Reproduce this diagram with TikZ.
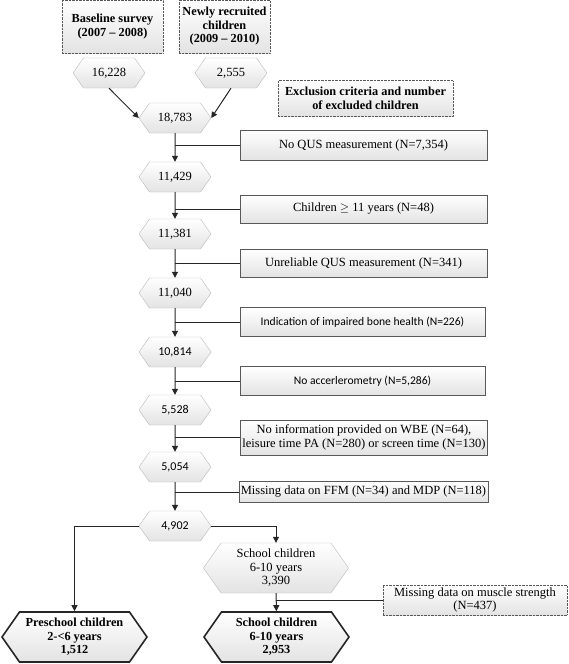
\documentclass[tikz,border=0pt]{standalone}
\usepackage{fontspec}
\setmainfont{Liberation Serif}
\newfontfamily\calfont{Carlito}
\usetikzlibrary{shapes.symbols,arrows.meta}

\tikzset{
  box/.style={draw=gray!70!black, top color=white, bottom color=gray!22,
    align=center, inner sep=2pt, font=\fontsize{12.5}{13.5}\selectfont},
  dotbox/.style={box, densely dotted, font=\fontsize{12.3}{13.5}\selectfont\bfseries},
  hexa/.style={draw=gray!55, signal, signal to=west and east, signal pointer angle=110,
    top color=white, bottom color=gray!22, align=center, inner sep=1pt,
    minimum width=72pt, minimum height=30pt, font=\fontsize{12.5}{13.5}\selectfont},
  calhexa/.style={hexa, font=\calfont\fontsize{12}{13.5}\selectfont},
  bighexa/.style={hexa, minimum width=145pt, minimum height=50pt},
  finalhexa/.style={bighexa, draw=gray!30!black, line width=1.6pt, font=\fontsize{12.3}{13.5}\selectfont\bfseries},
  link/.style={draw=gray!30!black, line width=1pt},
  arr/.style={link, -{Triangle[length=6pt,width=6pt]}}
}

\begin{document}
\begin{tikzpicture}[x=1pt,y=-1pt]
  \useasboundingbox (0,0) rectangle (568,664);

  \node[dotbox, minimum width=101pt, minimum height=53pt] (base) at (112.5,26.5) {Baseline survey\\(2007 -- 2008)};
  \node[dotbox, minimum width=91pt, minimum height=53pt] (recruit) at (224.5,26.5) {Newly recruited\\children\\(2009 -- 2010)};
  \node[hexa] (n16228) at (109,73) {16,228};
  \node[hexa] (n2555) at (231,73) {2,555};
  \node[hexa] (n18783) at (175,118) {18,783};
  \node[dotbox, minimum width=175pt, minimum height=36pt] (exclhead) at (365.5,98.5) {Exclusion criteria and number\\of excluded children};

  \node[hexa] (n11429) at (175,177) {11,429};
  \node[hexa] (n11381) at (175,234) {11,381};
  \node[hexa] (n11040) at (175,293) {11,040};
  \node[calhexa] (n10814) at (175,352) {10,814};
  \node[calhexa] (n5528) at (175,410) {5,528};
  \node[calhexa] (n5054) at (175,467) {5,054};
  \node[calhexa] (n4902) at (175,526) {4,902};

  \node[box, minimum width=247pt, minimum height=30pt] (excl1) at (363.5,145) {No QUS measurement (N=7,354)};
  \node[box, minimum width=247pt, minimum height=28pt] (excl2) at (363.5,209) {Children $\geq$ 11 years (N=48)};
  \node[box, minimum width=247pt, minimum height=28pt] (excl3) at (363.5,263) {Unreliable QUS measurement (N=341)};
  \node[box, minimum width=245pt, minimum height=29pt, font=\calfont\fontsize{11.6}{13.5}\selectfont] (excl4) at (362.5,322) {Indication of impaired bone health (N=226)};
  \node[box, minimum width=245pt, minimum height=29pt, font=\calfont\fontsize{11.6}{13.5}\selectfont] (excl5) at (362.5,381) {No accerlerometry (N=5,286)};
  \node[box, minimum width=246pt, minimum height=35pt] (excl6) at (364,437.5) {No information provided on WBE (N=64),\\leisure time PA (N=280) or screen time (N=130)};
  \node[box, minimum width=247pt, minimum height=21pt] (excl7) at (363.5,492) {Missing data on FFM (N=34) and MDP (N=118)};

  \node[bighexa] (school) at (276,568) {School children\\6-10 years\\3,390};
  \node[dotbox, font=\fontsize{12.5}{13.5}\selectfont, minimum width=184pt, minimum height=30pt] (excl8) at (475,600) {Missing data on muscle strength\\(N=437)};
  \node[finalhexa] (preschoolfin) at (74.5,637) {Preschool children\\2-<6 years\\1,512};
  \node[finalhexa] (schoolfin) at (276.5,637) {School children\\6-10 years\\2,953};

  \draw[arr] (n16228.south) -- (n18783.west);
  \draw[arr] (n2555.south) -- (n18783.east);
  \draw[arr] (n18783) -- (n11429);
  \draw[arr] (n11429) -- (n11381);
  \draw[arr] (n11381) -- (n11040);
  \draw[arr] (n11040) -- (n10814);
  \draw[arr] (n10814) -- (n5528);
  \draw[arr] (n5528) -- (n5054);
  \draw[arr] (n5054) -- (n4902);
  \draw[link] (excl1.west) -- (excl1.west -| n18783.south);
  \draw[link] (excl2.west) -- (excl2.west -| n11429.south);
  \draw[link] (excl3.west) -- (excl3.west -| n11381.south);
  \draw[link] (excl4.west) -- (excl4.west -| n11040.south);
  \draw[link] (excl5.west) -- (excl5.west -| n10814.south);
  \draw[link] (excl6.west) -- (excl6.west -| n5528.south);
  \draw[link] (excl7.west) -- (excl7.west -| n5054.south);

  \draw[arr] (n4902.west) -| (preschoolfin.north);
  \draw[arr] (n4902.east) -| (school.north);
  \draw[arr] (school) -- (schoolfin);
  \draw[link] (excl8.west) -- (excl8.west -| school.south);
\end{tikzpicture}
\end{document}
